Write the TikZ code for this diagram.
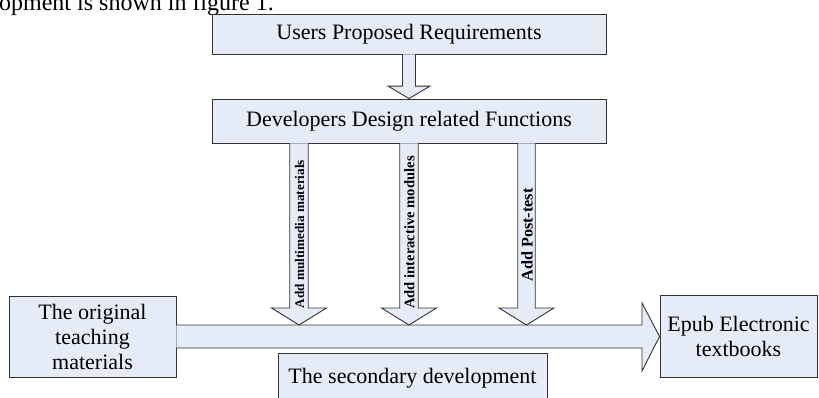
\documentclass[tikz,border=0pt]{standalone}
\usepackage{fontspec}
\setmainfont{Liberation Serif}
\definecolor{boxfill}{HTML}{E6ECF7}
\definecolor{edge}{HTML}{333333}
\begin{document}
\begin{tikzpicture}[x=1pt,y=-1pt,
  box/.style={draw=edge, fill=boxfill, line width=0.9pt, inner sep=0pt, align=center,
              font=\fontsize{22}{25}\selectfont},
  blk/.style={draw=edge, fill=boxfill, line width=0.9pt, line join=miter},
  lab/.style={rotate=90, inner sep=0pt}]
\useasboundingbox (0,0) rectangle (819,397);
\clip (0,0) rectangle (819,397);

% clipped caption line at the top
\node[anchor=base east, inner sep=0pt, font=\fontsize{24}{28}\selectfont] (cap) at (274,10) {lopment is shown in figure 1.};

% boxes
\node[box, minimum width=394pt, minimum height=40pt] (users) at (409,34) {Users Proposed Requirements};
\node[box, minimum width=394pt, minimum height=44pt] (dev) at (409,121) {Developers Design related Functions};
\node[box, minimum width=167pt, minimum height=81pt] (orig) at (92.5,336.5) {The original\\teaching\\materials};
\node[box, minimum width=157pt, minimum height=82pt] (epub) at (738.5,336.5) {Epub Electronic\\textbooks};

% main horizontal block arrow
\coordinate (hs) at (642,336.5);
\draw[blk] ([yshift=11.5pt]orig.east) -- ([yshift=11.5pt]hs) -- ([yshift=33.5pt]hs) -- (epub.west)
  -- ([yshift=-34.5pt]hs) -- ([yshift=-11.5pt]hs) -- ([yshift=-11.5pt]orig.east);

\node[box, minimum width=269pt, minimum height=50pt] (sec) at (412.5,378) {The secondary development};

% top block arrow
\draw[blk] ([xshift=-6.5pt]users.south) -- ([xshift=-6.5pt,yshift=12.5pt]dev.north)
  -- ([xshift=-21pt,yshift=12.5pt]dev.north) -- (dev.north)
  -- ([xshift=21pt,yshift=12.5pt]dev.north) -- ([xshift=6.5pt,yshift=12.5pt]dev.north)
  -- ([xshift=6.5pt]users.south);

% vertical block arrows onto the main shaft
\coordinate (m1) at (299,325);
\coordinate (m2) at (409,325);
\coordinate (m3) at (526.5,325);
\foreach \m/\hw in {m1/9.25, m2/9.25, m3/8.75}{
  \draw[blk] ([xshift=-\hw pt]dev.south -| \m) -- ([xshift=-\hw pt,yshift=17pt]\m)
    -- ([xshift=-27.5pt,yshift=17pt]\m) -- (\m)
    -- ([xshift=27.5pt,yshift=17pt]\m) -- ([xshift=\hw pt,yshift=17pt]\m)
    -- ([xshift=\hw pt]dev.south -| \m);
}

% labels in the vertical arrows
\node[lab, font=\bfseries\fontsize{13.2}{15}\selectfont] (l1) at (299.5,234) {Add multimedia materials};
\node[lab, font=\bfseries\fontsize{14.6}{16}\selectfont] (l2) at (409.5,232.5) {Add interactive modules};
\node[lab, font=\bfseries\fontsize{16.2}{18}\selectfont] (l3) at (527,235) {Add Post-test};
\end{tikzpicture}
\end{document}
